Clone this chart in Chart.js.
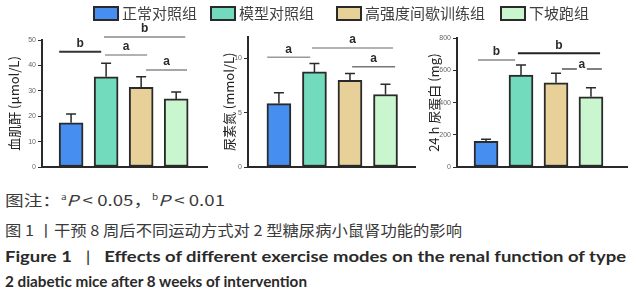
<!DOCTYPE html>
<html>
<head>
<meta charset="utf-8">
<script src="https://cdn.jsdelivr.net/npm/chart.js@4/dist/chart.umd.min.js"></script>
<style>
body { margin:0; background:#fff; width:637px; height:300px; overflow:hidden; position:relative; font-family:"Noto Sans CJK SC", sans-serif; }
.lg-item { position:absolute; top:4px; display:flex; align-items:center; font-size:15px; color:#404040; white-space:nowrap; z-index:2; line-height:18px; }
.lg-box { width:22px; height:11px; border:2px solid #2a2a2a; margin-right:3px; }
.panel { position:absolute; top:20px; height:160px; }
.cap { position:absolute; left:5px; white-space:nowrap; transform-origin:0 50%; }
.cn { font-family:"Noto Sans CJK SC", sans-serif; color:#3a3a3a; font-size:15px; }
.en { font-family:Lato, "Open Sans", sans-serif; font-weight:bold; color:#2a2a2a; font-size:16px; }
.bar { margin:0 12px; font-weight:normal; }
sup { font-size:8px; }
</style>
</head>
<body>
<div class="panel" style="left:0;width:215px"><canvas id="c1"></canvas></div>
<div class="panel" style="left:215px;width:210px"><canvas id="c2"></canvas></div>
<div class="panel" style="left:425px;width:212px"><canvas id="c3"></canvas></div>

<div class="cap cn" style="top:189px" data-w="220">图注：<sup>a</sup><i>P</i> &lt; 0.05，<sup>b</sup><i>P</i> &lt; 0.01</div>
<div class="cap cn" style="top:219px" data-w="457">图 1 丨干预 8 周后不同运动方式对 2 型糖尿病小鼠肾功能的影响</div>
<div class="cap en" style="top:246px" data-w="621">Figure 1<span class="bar">|</span>Effects of different exercise modes on the renal function of type</div>
<div class="cap en" style="top:271px" data-w="302">2 diabetic mice after 8 weeks of intervention</div>

<script>
// 分组
var groups = ['正常对照组', '模型对照组', '高强度间歇训练组', '下坡跑组'];
var groupColors = ['#468ff0', '#72dbbd', '#e8d199', '#c9f6cf'];

// 血肌酐 (μmol/L)
var creatinine = [17.4, 35.5, 31.4, 26.8];
var creatinineErr = [3.5, 5.3, 4.1, 2.7];

// 尿素氮 (mmol/L)
var urea = [5.84, 8.76, 7.99, 6.68];
var ureaErr = [1.0, 0.78, 0.62, 0.93];

// 24 h 尿蛋白 (mg)
var protein = [160, 571, 523, 436];
var proteinErr = [12, 63, 59, 56];

// 显著性标记 [起点, 终点, 高度, 字母]
var sig1 = [[-0.34, 0.86, 45.4, 'b'], [0.94, 3.26, 51.2, 'b'], [0.97, 2.17, 44.1, 'a'], [2.14, 3.31, 38.2, 'a']];
var sig2 = [[-0.33, 0.88, 10.1, 'a'], [0.93, 3.21, 10.97, 'a'], [2.06, 3.27, 9.23, 'a']];
var sig3 = [[-0.23, 0.83, 665, 'b'], [0.91, 3.26, 707, 'b'], [2.17, 3.31, 609, 'a']];

// 图例
var legendLeft = [93, 210, 336, 500];
groups.forEach(function (g, i) {
    var d = document.createElement('div');
    d.className = 'lg-item';
    d.style.left = legendLeft[i] + 'px';
    d.innerHTML = '<span class="lg-box" style="background:' + groupColors[i] + '"></span>' + g;
    document.body.appendChild(d);
});

// 误差线 + 显著性线
var markPlugin = {
    id: 'marks',
    afterDatasetsDraw: function (chart) {
        var ctx = chart.ctx;
        var xs = chart.scales.x, ys = chart.scales.y;
        var o = chart.options.plugins.marks;
        var meta = chart.getDatasetMeta(0);
        ctx.save();
        ctx.strokeStyle = '#2a2a2a';
        ctx.lineWidth = 1.5;
        meta.data.forEach(function (bar, i) {
            var v = chart.data.datasets[0].data[i].y;
            var yt = ys.getPixelForValue(v + o.err[i]);
            ctx.beginPath();
            ctx.moveTo(bar.x, bar.y);
            ctx.lineTo(bar.x, yt);
            ctx.moveTo(bar.x - 5, yt);
            ctx.lineTo(bar.x + 5, yt);
            ctx.stroke();
        });
        ctx.font = 'bold 12px "Liberation Sans", Arial, sans-serif';
        ctx.textAlign = 'center';
        ctx.textBaseline = 'middle';
        o.sig.forEach(function (s, k) {
            var x1 = xs.getPixelForValue(s[0]), x2 = xs.getPixelForValue(s[1]);
            var y = ys.getPixelForValue(s[2]);
            var mid = (x1 + x2) / 2;
            ctx.strokeStyle = o.lineColors[k];
            ctx.lineWidth = o.lineWidths[k];
            ctx.beginPath();
            if (o.gap === k) {
                ctx.moveTo(x1, y); ctx.lineTo(mid - 5, y);
                ctx.moveTo(mid + 5, y); ctx.lineTo(x2, y);
            } else {
                ctx.moveTo(x1, y); ctx.lineTo(x2, y);
            }
            ctx.stroke();
            ctx.fillStyle = '#2a2a2a';
            ctx.fillText(s[3], mid, o.gap === k ? y - 4 : y - 8);
        });
        ctx.restore();
    }
};

function makePanel(id, vals, errs, sig, opt) {
    var ctx = document.getElementById(id).getContext('2d');
    return new Chart(ctx, {
        type: 'bar',
        data: {
            datasets: [{
                data: vals.map(function (v, i) { return { x: i, y: v }; }),
                backgroundColor: groupColors,
                borderColor: '#2a2a2a',
                borderWidth: 2,
                borderSkipped: false,
                barThickness: 24
            }]
        },
        options: {
            responsive: true,
            maintainAspectRatio: false,
            animation: false,
            layout: { padding: { top: opt.top, right: opt.right, left: 0, bottom: 0 } },
            plugins: {
                legend: { display: false },
                tooltip: { enabled: false },
                marks: { err: errs, sig: sig, lineColors: opt.lineColors, lineWidths: opt.lineWidths, gap: opt.gap }
            },
            scales: {
                x: {
                    type: 'linear',
                    offset: false,
                    min: opt.xMin,
                    max: opt.xMax,
                    ticks: { display: false },
                    grid: { display: false },
                    border: { color: '#2a2a2a', width: 2 },
                    afterFit: function (s) { s.height = 13; }
                },
                y: {
                    min: 0,
                    max: opt.yMax,
                    ticks: {
                        stepSize: opt.step,
                        includeBounds: false,
                        font: { size: 7, family: '"Liberation Sans", Arial' },
                        color: '#666',
                        padding: 2
                    },
                    grid: { drawOnChartArea: false, tickLength: 4, color: '#2a2a2a', lineWidth: 1 },
                    border: { color: '#2a2a2a', width: 2 },
                    title: {
                        display: true,
                        text: opt.title,
                        font: { size: 13, family: '"Noto Sans CJK SC", sans-serif' },
                        color: '#222',
                        padding: { top: opt.titlePad, bottom: 0 }
                    },
                    afterFit: function (s) { s.width = opt.yWidth; }
                }
            }
        },
        plugins: [markPlugin]
    });
}

makePanel('c1', creatinine, creatinineErr, sig1, {
    title: '血肌酐 (μmol/L)', yMax: 50, step: 10, xMin: -0.83, xMax: 3.88,
    top: 20, right: 8, yWidth: 42, titlePad: 6,
    lineColors: ['#333', '#888', '#999', '#888'], lineWidths: [2, 1.5, 1.5, 1.5], gap: -1
});
makePanel('c2', urea, ureaErr, sig2, {
    title: '尿素氮 (mmol/L)', yMax: 12, step: 5, xMin: -0.87, xMax: 3.83,
    top: 16.7, right: 10, yWidth: 33, titlePad: 6,
    lineColors: ['#999', '#999', '#777'], lineWidths: [1.5, 1.5, 1.5], gap: -1
});
makePanel('c3', protein, proteinErr, sig3, {
    title: '24 h 尿蛋白 (mg)', yMax: 800, step: 200, xMin: -0.83, xMax: 4.03,
    top: 18.3, right: 10, yWidth: 32, titlePad: 1,
    lineColors: ['#888', '#222', '#555'], lineWidths: [1.5, 2, 1.5], gap: 2
});

// 图注宽度对齐
document.querySelectorAll('.cap').forEach(function (el) {
    var w = el.getBoundingClientRect().width;
    el.style.transform = 'scaleX(' + (+el.getAttribute('data-w') / w) + ')';
});
</script>
</body>
</html>
